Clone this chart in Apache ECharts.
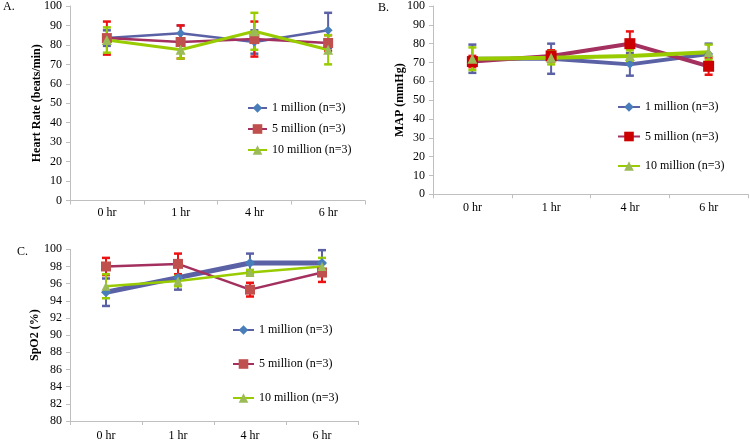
<!DOCTYPE html>
<html>
<head>
<meta charset="utf-8">
<script src="https://cdn.jsdelivr.net/npm/echarts@6/dist/echarts.min.js"></script>
<style>html,body{margin:0;padding:0;background:#fff}#c{width:750px;height:442px}</style>
</head>
<body>
<div id="c"></div>
<script>
// ---- data ----
const hours = ['0 hr', '1 hr', '4 hr', '6 hr'];
const groupNames = ['1 million (n=3)', '5 million (n=3)', '10 million (n=3)'];

// A. Heart rate (beats/min)
const hr1 = [83.5, 86, 81.5, 87.5];
const hr1Err = [4, 4, 6, 9];
const hr5 = [83.5, 81.5, 83, 81];
const hr5Err = [8.5, 8.5, 9, 4];
const hr10 = [82.5, 77.5, 87, 77.5];
const hr10Err = [6.5, 4.5, 9.5, 7.5];

// B. MAP (mmHg)
const map1 = [72, 72, 69, 74.5];
const map1Err = [7.5, 8, 6, 5.5];
const map5 = [70.5, 73.5, 80, 68];
const map5Err = [3, 3, 6.5, 4.5];
const map10 = [72, 72.5, 73.5, 75.5];
const map10Err = [6, 3.5, 3, 4];

// C. SpO2 (%)
const sp1 = [95, 96.7, 98.4, 98.4];
const sp1Err = [1.6, 1.4, 1.1, 1.5];
const sp5 = [98, 98.3, 95.3, 97.3];
const sp5Err = [1, 1.2, 0.8, 1.1];
const sp10 = [95.7, 96.3, 97.3, 98];
const sp10Err = [1.4, 0.6, 0.3, 1];

// ---- styling ----
const FONT = 'Liberation Serif';
const AX = '#bfbfbf';
const blueLine = '#5b61a5', blueMark = '#4a7ebb';
const redLine = '#a3305e', redMarkA = '#c0504d', redMarkB = '#cc0000';
const greenLine = '#99cc00', greenMark = '#9bbb59';
const errColors = ['#5b61a5', '#ee1111', '#99cc00'];

function lineSeries(name, idx, data, color, mark, symbol, size, width, z) {
  return {
    type: 'line', name: name, xAxisIndex: idx, yAxisIndex: idx, data: data,
    symbol: symbol, symbolSize: size, showAllSymbol: true,
    lineStyle: { color: color, width: width },
    itemStyle: { color: mark, borderWidth: 0 },
    z: z, animation: false, silent: true
  };
}
function errSeries(idx, vals, errs, color) {
  return {
    type: 'custom', xAxisIndex: idx, yAxisIndex: idx, silent: true, animation: false, z: 1,
    data: vals.map((v, i) => [i, v - errs[i], v + errs[i]]),
    encode: { x: 0, y: [1, 2] },
    renderItem: function (params, api) {
      const x = api.value(0);
      const lo = api.coord([x, api.value(1)]);
      const hi = api.coord([x, api.value(2)]);
      const w = 4;
      const st = { stroke: color, lineWidth: 2 };
      const cap = { stroke: color, lineWidth: 2.5 };
      return { type: 'group', children: [
        { type: 'line', shape: { x1: lo[0], y1: lo[1], x2: hi[0], y2: hi[1] }, style: st },
        { type: 'line', shape: { x1: lo[0] - w, y1: lo[1], x2: lo[0] + w, y2: lo[1] }, style: cap },
        { type: 'line', shape: { x1: hi[0] - w, y1: hi[1], x2: hi[0] + w, y2: hi[1] }, style: cap }
      ]};
    }
  };
}
function xAx(idx, margin) {
  return {
    type: 'category', gridIndex: idx, data: hours, boundaryGap: true,
    axisLine: { lineStyle: { color: AX, width: 1 } },
    axisTick: { show: true, length: 4, lineStyle: { color: AX } },
    axisLabel: { color: '#000', fontFamily: FONT, fontSize: 12, margin: margin },
    splitLine: { show: false }
  };
}
function yAx(idx, min, max, interval, name, gap) {
  return {
    type: 'value', gridIndex: idx, min: min, max: max, interval: interval,
    name: name, nameLocation: 'middle', nameGap: gap, nameRotate: 90, nameMoveOverlap: false,
    nameTextStyle: { color: '#000', fontFamily: FONT, fontSize: 12, fontWeight: 'bold' },
    axisLine: { show: true, lineStyle: { color: AX, width: 1 } },
    axisTick: { show: true, length: 4, lineStyle: { color: AX } },
    axisLabel: { color: '#000', fontFamily: FONT, fontSize: 12, margin: 8 },
    splitLine: { show: false }
  };
}

const namesA = groupNames;
const namesB = groupNames.map(n => n + ' ');
const namesC = groupNames.map(n => n + '  ');

const series = [
  errSeries(0, hr1, hr1Err, errColors[0]),
  errSeries(0, hr5, hr5Err, errColors[1]),
  errSeries(0, hr10, hr10Err, errColors[2]),
  lineSeries(namesA[0], 0, hr1, blueLine, blueMark, 'diamond', 9, 2.5, 3),
  lineSeries(namesA[1], 0, hr5, redLine, redMarkA, 'rect', 10, 2.5, 3),
  lineSeries(namesA[2], 0, hr10, greenLine, greenMark, 'triangle', 10, 3, 3),

  errSeries(1, map1, map1Err, errColors[0]),
  errSeries(1, map5, map5Err, errColors[1]),
  errSeries(1, map10, map10Err, errColors[2]),
  lineSeries(namesB[0], 1, map1, blueLine, blueMark, 'diamond', 9, 4, 3),
  lineSeries(namesB[1], 1, map5, redLine, redMarkB, 'rect', 11, 4, 3),
  lineSeries(namesB[2], 1, map10, greenLine, greenMark, 'triangle', 10, 4, 3),

  errSeries(2, sp1, sp1Err, errColors[0]),
  errSeries(2, sp5, sp5Err, errColors[1]),
  errSeries(2, sp10, sp10Err, errColors[2]),
  lineSeries(namesC[0], 2, sp1, blueLine, blueMark, 'diamond', 10, 5, 3),
  lineSeries(namesC[1], 2, sp5, redLine, redMarkA, 'rect', 10, 2.5, 3),
  lineSeries(namesC[2], 2, sp10, greenLine, greenMark, 'triangle', 9, 2.5, 3)
];

function legend(names, left, top, gap, iw) {
  return {
    data: names, orient: 'vertical', left: left, top: top, itemGap: gap, padding: 0,
    itemWidth: iw, itemHeight: 12, selectedMode: false,
    textStyle: { color: '#000', fontFamily: FONT, fontSize: 12 }
  };
}
const titleStyle = { fontFamily: FONT, fontSize: 12, fontWeight: 'normal', color: '#000' };

const option = {
  animation: false,
  backgroundColor: '#fff',
  title: [
    { text: 'A.', left: 3, top: 1, padding: 0, textStyle: titleStyle },
    { text: 'B.', left: 378, top: 2, padding: 0, textStyle: titleStyle },
    { text: 'C.', left: 17, top: 246, padding: 0, textStyle: titleStyle }
  ],
  grid: [
    { left: 70, top: 4, width: 295, height: 196.5 },
    { left: 433, top: 5, width: 315, height: 189.3 },
    { left: 70, top: 249.3, width: 288, height: 174.7 }
  ],
  xAxis: [xAx(0, 6), xAx(1, 8), xAx(2, 9)],
  yAxis: [
    yAx(0, 0, 100, 10, 'Heart Rate (beats/min)', 27),
    yAx(1, 0, 100, 10, 'MAP (mmHg)', 27),
    yAx(2, 80, 100, 2, 'SpO2 (%)', 29)
  ],
  legend: [
    legend(namesA, 247, 102, 9, 19),
    legend(namesB, 617, 101, 17.5, 22),
    legend(namesC, 232, 324, 22, 21)
  ],
  series: series
};

const chart = echarts.init(document.getElementById('c'), null, { renderer: 'canvas' });
chart.setOption(option);
</script>
</body>
</html>
